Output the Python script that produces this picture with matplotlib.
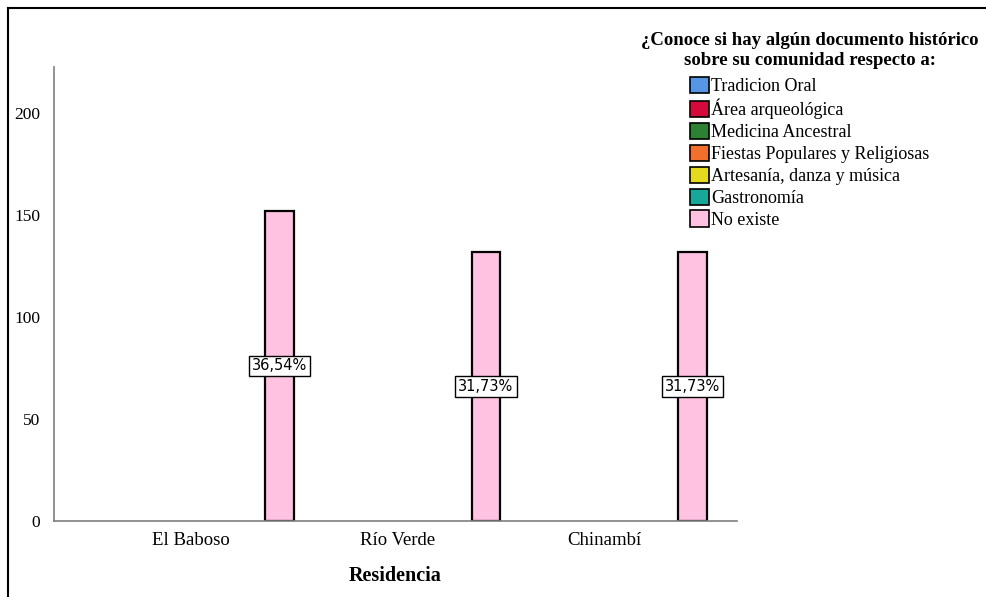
import matplotlib.pyplot as plt
import numpy as np
from matplotlib.lines import Line2D
from matplotlib.patches import Patch

# datos
residencias = ["El Baboso", "Río Verde", "Chinambí"]
series = [
    "Tradicion Oral",
    "Área arqueológica",
    "Medicina Ancestral",
    "Fiestas Populares y Religiosas",
    "Artesanía, danza y música",
    "Gastronomía",
    "No existe",
]
conteos = {
    "Tradicion Oral": [0, 0, 0],
    "Área arqueológica": [0, 0, 0],
    "Medicina Ancestral": [0, 0, 0],
    "Fiestas Populares y Religiosas": [0, 0, 0],
    "Artesanía, danza y música": [0, 0, 0],
    "Gastronomía": [0, 0, 0],
    "No existe": [152, 132, 132],
}
porcentajes = ["36,54%", "31,73%", "31,73%"]
colores = ["#5796E3", "#D50A3C", "#2C8232", "#F2702C", "#E6DA1E", "#18A89A", "#FFC2E1"]

plt.rcParams["font.family"] = ["Liberation Serif", "DejaVu Serif"]

fig = plt.figure(figsize=(9.87, 5.97), dpi=100)
ax = fig.add_axes([54 / 987, 76 / 597, (737 - 54) / 987, (521 - 67) / 597])

x = np.arange(len(residencias))
w = 1.0 / 7
for i, s in enumerate(series):
    vals = np.array(conteos[s])
    lw = np.where(vals > 0, 1.6, 0.0)
    ax.bar(x + (i - 3) * w, vals, width=w * 0.97, color=colores[i],
           edgecolor="black", linewidth=lw, zorder=2)

# etiquetas de porcentaje
vals = np.array(conteos["No existe"])
for xi, v, p in zip(x + 3 * w, vals, porcentajes):
    ax.text(xi, v / 2, p, ha="center", va="center", fontsize=10.5,
            family="DejaVu Sans", zorder=3,
            bbox=dict(boxstyle="square,pad=0.2", fc="white", ec="black", lw=1))

ax.set_xlim(-0.665, 2.645)
ax.set_ylim(0, 222.5)
ax.set_yticks([0, 50, 100, 150, 200])
ax.set_xticks(x)
ax.set_xticklabels(residencias)
ax.tick_params(axis="y", length=0, labelsize=12.5, pad=10)
ax.tick_params(axis="x", length=0, labelsize=13.5, pad=8)
for sp in ["top", "right"]:
    ax.spines[sp].set_visible(False)
for sp in ["left", "bottom"]:
    ax.spines[sp].set_color("#7f7f7f")
    ax.spines[sp].set_linewidth(1.2)
ax.set_xlabel("Residencia", fontsize=14.5, fontweight="bold", labelpad=12)

handles = [Patch(facecolor=c, edgecolor="black", linewidth=1.2) for c in colores]
leg = fig.legend(handles, series, loc="upper center", bbox_to_anchor=(810 / 987, 1 - 32 / 597),
                 frameon=False, fontsize=13, handlelength=1.0, handleheight=1.0,
                 handletextpad=0.15, labelspacing=0.2, borderaxespad=0, borderpad=0,
                 title="¿Conoce si hay algún documento histórico\nsobre su comunidad respecto a:",
                 title_fontproperties={"weight": "bold", "size": 13.5})
leg.get_title().set_multialignment("center")
leg._legend_box.align = "center"
leg._legend_box.sep = 6

# marco de la figura
fig.add_artist(Line2D([8 / 987, 8 / 987], [0, 1 - 8 / 597], color="black", lw=1.5))
fig.add_artist(Line2D([8 / 987, 1], [1 - 8 / 597, 1 - 8 / 597], color="black", lw=1.5))

fig.savefig("out.png", dpi=100)
plt.close(fig)
